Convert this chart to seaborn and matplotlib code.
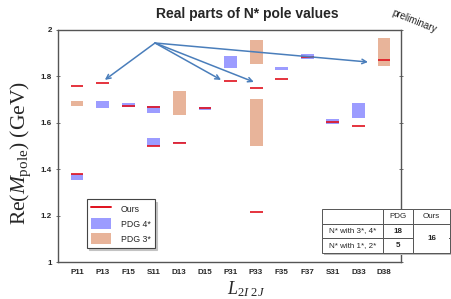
import numpy as np
import pandas as pd
import seaborn as sns
import matplotlib.pyplot as plt
from matplotlib.patches import Patch, Rectangle
from matplotlib.lines import Line2D

sns.set_theme(style="white")
plt.rcParams['font.family'] = ['Liberation Sans', 'DejaVu Sans']
plt.rcParams['mathtext.fontset'] = 'custom'
plt.rcParams['mathtext.rm'] = 'Liberation Serif'
plt.rcParams['mathtext.it'] = 'Liberation Serif:italic'

waves = ['P11', 'P13', 'F15', 'S11', 'D13', 'D15', 'P31', 'P33',
         'F35', 'F37', 'S31', 'D33', 'D38']

# our pole positions (GeV)
ours_wave = ['P11', 'P11', 'P13', 'F15', 'S11', 'S11', 'D13', 'D15',
             'P31', 'P33', 'P33', 'F35', 'F37', 'S31', 'D33', 'D38']
ours_mass = [1.759, 1.380, 1.771, 1.671, 1.668, 1.501, 1.511, 1.662,
             1.778, 1.750, 1.215, 1.788, 1.882, 1.605, 1.586, 1.871]

# PDG 4* ranges
pdg4_wave = ['P11', 'P13', 'F15', 'S11', 'S11', 'D13', 'D15', 'P31',
             'F35', 'F37', 'S31', 'D33']
pdg4_low = [1.352, 1.662, 1.670, 1.644, 1.499, 1.511, 1.657, 1.835,
            1.828, 1.874, 1.593, 1.622]
pdg4_high = [1.380, 1.694, 1.687, 1.672, 1.535, 1.519, 1.668, 1.889,
             1.842, 1.896, 1.615, 1.687]

# PDG 3* ranges
pdg3_wave = ['P11', 'D13', 'P33', 'P33', 'D38']
pdg3_low = [1.673, 1.632, 1.853, 1.502, 1.843]
pdg3_high = [1.695, 1.735, 1.957, 1.704, 1.965]

# counts table
table_rows = ['N* with 3*, 4*', 'N* with 1*, 2*']
table_pdg = ['18', '5']
table_ours = '16'

# arrows: start and heads in (wave position, mass)
arrow_from = (3.05, 1.944)
arrow_to = [(1.09, 1.785), (5.63, 1.785), (6.91, 1.776), (11.37, 1.862)]

pos = {w: i for i, w in enumerate(waves)}
ours = pd.DataFrame({'wave': ours_wave, 'mass': ours_mass})
pdg4 = pd.DataFrame({'wave': pdg4_wave, 'low': pdg4_low, 'high': pdg4_high})
pdg3 = pd.DataFrame({'wave': pdg3_wave, 'low': pdg3_low, 'high': pdg3_high})

blue = '#9c9cff'
tan = '#e8b49a'
red = '#e0101c'
arrow_c = '#4a7ebb'

fig = plt.figure(figsize=(4.51, 2.99), dpi=100)
ax = fig.add_axes([0.1286, 0.1237, 0.7605, 0.7760])

w = 0.5
for df, c in [(pdg3, tan), (pdg4, blue)]:
    x = df['wave'].map(pos)
    ax.bar(x, df['high'] - df['low'], bottom=df['low'], width=w,
           color=c, linewidth=0, zorder=2)

xo = ours['wave'].map(pos)
ax.hlines(ours['mass'], xo - w / 2, xo + w / 2, colors=red, lw=1.4,
          alpha=0.85, zorder=3)

for head in arrow_to:
    ax.annotate('', xy=head, xytext=arrow_from,
                arrowprops=dict(arrowstyle='->', color=arrow_c, lw=1.1,
                                shrinkA=0, shrinkB=0, mutation_scale=8),
                zorder=4)

ax.set_xlim(-0.74, 12.66)
ax.set_ylim(1, 2)
ax.set_xticks(range(len(waves)))
ax.set_xticklabels(waves)
yt = [1, 1.2, 1.4, 1.6, 1.8, 2]
ax.set_yticks(yt)
ax.set_yticklabels(['1', '1.2', '1.4', '1.6', '1.8', '2'])
for lab in ax.get_xticklabels() + ax.get_yticklabels():
    lab.set_fontsize(5.8)
    lab.set_fontweight('bold')
ax.tick_params(axis='x', length=0, pad=5)
ax.tick_params(axis='y', which='both', direction='inout', length=3,
               width=0.6, color='#555555', pad=3, right=True, left=True)
for s in ax.spines.values():
    s.set_color('#555555')
    s.set_linewidth(1)

handles = [Line2D([], [], color=red, lw=1.4),
           Patch(facecolor=blue, edgecolor='none'),
           Patch(facecolor=tan, edgecolor='none')]
leg = ax.legend(handles, ['Ours', 'PDG 4*', 'PDG 3*'], loc='lower left',
                bbox_to_anchor=(0.085, 0.06), fontsize=6.3, frameon=True,
                fancybox=False, edgecolor='#444444',
                shadow={'color': '#bbbbbb', 'alpha': 0.8, 'ox': 1.5,
                        'oy': -1.5},
                handlelength=2.3, handleheight=1.5, borderpad=0.45,
                labelspacing=0.5, handletextpad=1.1, borderaxespad=0)
leg.get_frame().set_linewidth(0.8)

# table at the lower right
cell_text = [['', 'PDG', 'Ours']]
for r, p in zip(table_rows, table_pdg):
    cell_text.append([r, p, ''])
bbox = [0.770, 0.039, 0.373, 0.189]
shadow = Rectangle((bbox[0] + 0.005, bbox[1] - 0.008), bbox[2], bbox[3],
                   transform=ax.transAxes, facecolor='#bbbbbb',
                   edgecolor='none', clip_on=False, zorder=9)
ax.add_patch(shadow)
tab = ax.table(cellText=cell_text, bbox=bbox, cellLoc='center',
               colWidths=[0.477, 0.234, 0.289])
tab.auto_set_font_size(False)
tab.set_fontsize(5.8)
tab.set_zorder(10)
for (r, c), cell in tab.get_celld().items():
    cell.set_edgecolor('#555555')
    cell.set_linewidth(0.7)
    cell.set_facecolor('white')
    if r > 0 and c > 0:
        cell.get_text().set_fontweight('bold')
# merge the two "Ours" cells by hiding the border between them
x0 = bbox[0] + bbox[2] * (0.477 + 0.234)
cw = bbox[2] * 0.289
ax.add_patch(Rectangle((x0 + 0.004, bbox[1] + bbox[3] / 3 - 0.01),
                       cw - 0.008, 0.02, transform=ax.transAxes,
                       facecolor='white', edgecolor='none', clip_on=False,
                       zorder=10.5))
ax.text(x0 + cw / 2, bbox[1] + bbox[3] / 3, table_ours,
        transform=ax.transAxes, ha='center', va='center', fontsize=5.8,
        fontweight='bold', zorder=11)

fig.text(0.548, 0.953, 'Real parts of N* pole values', ha='center',
         va='center', fontsize=10, fontweight='bold')
fig.text(0.918, 0.93, 'preliminary', ha='center', va='center',
         fontsize=7, rotation=-22, color='#222222')
fig.text(0.046, 0.488, r'Re($M_{\mathrm{pole}}$) (GeV)', rotation=90,
         ha='center', va='center', fontsize=15.5,
         family=['Liberation Serif', 'DejaVu Serif'])
fig.text(0.545, 0.032, r'$L_{2I\ 2J}$', ha='center', va='center',
         fontsize=13)

fig.savefig('out.png', dpi=100)
